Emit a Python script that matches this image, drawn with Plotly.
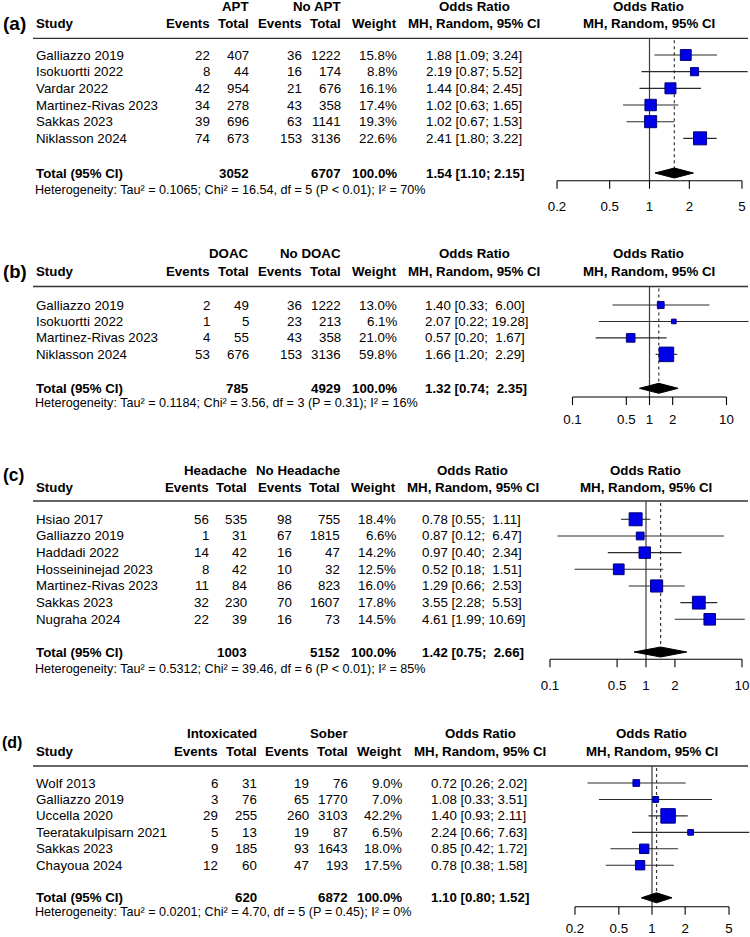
import math
import plotly.graph_objects as go

W, H = 750, 937
FONT = "Liberation Sans, Arial, Helvetica, sans-serif"

# ---------------- data ----------------
# (a) APT vs No APT
a_study = ["Galliazzo 2019", "Isokuortti 2022", "Vardar 2022", "Martinez-Rivas 2023", "Sakkas 2023", "Niklasson 2024"]
a_e_events = [22, 8, 42, 34, 39, 74]
a_e_total = [407, 44, 954, 278, 696, 673]
a_c_events = [36, 16, 21, 43, 63, 153]
a_c_total = [1222, 174, 676, 358, 1141, 3136]
a_weight = [15.8, 8.8, 16.1, 17.4, 19.3, 22.6]
a_or = [1.88, 2.19, 1.44, 1.02, 1.02, 2.41]
a_lo = [1.09, 0.87, 0.84, 0.63, 0.67, 1.80]
a_hi = [3.24, 5.52, 2.45, 1.65, 1.53, 3.22]
a_totals = [3052, 6707, 100.0]
a_summary = [1.54, 1.10, 2.15]
a_het = ["0.1065", "16.54", "5", "P &lt; 0.01", "70%"]
a_ticks = [0.2, 0.5, 1, 2, 5]
a_groups = ["APT", "No APT"]

# (b) DOAC vs No DOAC
b_study = ["Galliazzo 2019", "Isokuortti 2022", "Martinez-Rivas 2023", "Niklasson 2024"]
b_e_events = [2, 1, 4, 53]
b_e_total = [49, 5, 55, 676]
b_c_events = [36, 23, 43, 153]
b_c_total = [1222, 213, 358, 3136]
b_weight = [13.0, 6.1, 21.0, 59.8]
b_or = [1.40, 2.07, 0.57, 1.66]
b_lo = [0.33, 0.22, 0.20, 1.20]
b_hi = [6.00, 19.28, 1.67, 2.29]
b_totals = [785, 4929, 100.0]
b_summary = [1.32, 0.74, 2.35]
b_het = ["0.1184", "3.56", "3", "P = 0.31", "16%"]
b_ticks = [0.1, 0.5, 1, 2, 10]
b_groups = ["DOAC", "No DOAC"]

# (c) Headache vs No Headache
c_study = ["Hsiao 2017", "Galliazzo 2019", "Haddadi 2022", "Hosseininejad 2023", "Martinez-Rivas 2023", "Sakkas 2023", "Nugraha 2024"]
c_e_events = [56, 1, 14, 8, 11, 32, 22]
c_e_total = [535, 31, 42, 42, 84, 230, 39]
c_c_events = [98, 67, 16, 10, 86, 70, 16]
c_c_total = [755, 1815, 47, 32, 823, 1607, 73]
c_weight = [18.4, 6.6, 14.2, 12.5, 16.0, 17.8, 14.5]
c_or = [0.78, 0.87, 0.97, 0.52, 1.29, 3.55, 4.61]
c_lo = [0.55, 0.12, 0.40, 0.18, 0.66, 2.28, 1.99]
c_hi = [1.11, 6.47, 2.34, 1.51, 2.53, 5.53, 10.69]
c_totals = [1003, 5152, 100.0]
c_summary = [1.42, 0.75, 2.66]
c_het = ["0.5312", "39.46", "6", "P &lt; 0.01", "85%"]
c_ticks = [0.1, 0.5, 1, 2, 10]
c_groups = ["Headache", "No Headache"]

# (d) Intoxicated vs Sober
d_study = ["Wolf 2013", "Galliazzo 2019", "Uccella 2020", "Teeratakulpisarn 2021", "Sakkas 2023", "Chayoua 2024"]
d_e_events = [6, 3, 29, 5, 9, 12]
d_e_total = [31, 76, 255, 13, 185, 60]
d_c_events = [19, 65, 260, 19, 93, 47]
d_c_total = [76, 1770, 3103, 87, 1643, 193]
d_weight = [9.0, 7.0, 42.2, 6.5, 18.0, 17.5]
d_or = [0.72, 1.08, 1.40, 2.24, 0.85, 0.78]
d_lo = [0.26, 0.33, 0.93, 0.66, 0.42, 0.38]
d_hi = [2.02, 3.51, 2.11, 7.63, 1.72, 1.58]
d_totals = [620, 6872, 100.0]
d_summary = [1.10, 0.80, 1.52]
d_het = ["0.0201", "4.70", "5", "P = 0.45", "0%"]
d_ticks = [0.2, 0.5, 1, 2, 5]
d_groups = ["Intoxicated", "Sober"]

panel_labels = ["(a)", "(b)", "(c)", "(d)"]

# ---------------- layout / style (pixel geometry) ----------------
STYLE = [
    dict(row0=55.0, pitch=16.67, hdr1=6.5, hdr2=23.0, rule=38.3, total=173.0, het=189.5,
         axis=180.7, ticklab=207.5, label_y=23.0, label_x=1.5, label_size=19,
         x_ee=211, x_et=250, x_ce=303, x_ce_hdr=303, x_ct=342, x_w=398, x_or=425,
         x_orhdr=474, x_fhdr=648.5, center=649.5, k=132.3, smax=13.0),
    dict(row0=305.0, pitch=16.45, hdr1=253.5, hdr2=271.0, rule=286.5, total=388.3, het=402.8,
         axis=397.0, ticklab=421.0, label_y=271.0, label_x=2.0, label_size=18.5,
         x_ee=211, x_et=250, x_ce=303, x_ce_hdr=303, x_ct=342, x_w=398, x_or=423.5,
         x_orhdr=474, x_fhdr=648.5, center=649.5, k=77.0, smax=14.5),
    dict(row0=519.3, pitch=16.67, hdr1=470.0, hdr2=487.0, rule=501.0, total=652.0, het=668.5,
         axis=659.3, ticklab=687.0, label_y=475.0, label_x=1.5, label_size=17.5,
         x_ee=210, x_et=248, x_ce=293, x_ce_hdr=303, x_ct=341, x_w=397, x_or=420.5,
         x_orhdr=472.5, x_fhdr=645.5, center=646.0, k=96.0, smax=13.0),
    dict(row0=783.0, pitch=16.45, hdr1=733.5, hdr2=751.0, rule=766.0, total=897.8, het=911.8,
         axis=906.7, ticklab=930.0, label_y=742.0, label_x=0.5, label_size=16,
         x_ee=218.5, x_et=258, x_ce=310, x_ce_hdr=310, x_ct=349, x_w=403, x_or=430,
         x_orhdr=480, x_fhdr=651.5, center=652.0, k=110.2, smax=14.5),
]
X_STUDY = 35
RULE_X = (33, 748)
FOREST_DOM = (530, 750)
FS = 13.3
FS_HET = 12.6
CI_COLOR = "#2b2b2b"
SQ_FILL = "#0000e8"
SQ_LINE = "#00007a"
REF_COLOR = "#3a3a3a"
DIAMOND_HALF_PX = 5.0
TICK_LEN_PX = 8.0

panels = [
    (a_study, a_e_events, a_e_total, a_c_events, a_c_total, a_weight, a_or, a_lo, a_hi, a_totals, a_summary, a_het, a_ticks, a_groups),
    (b_study, b_e_events, b_e_total, b_c_events, b_c_total, b_weight, b_or, b_lo, b_hi, b_totals, b_summary, b_het, b_ticks, b_groups),
    (c_study, c_e_events, c_e_total, c_c_events, c_c_total, c_weight, c_or, c_lo, c_hi, c_totals, c_summary, c_het, c_ticks, c_groups),
    (d_study, d_e_events, d_e_total, d_c_events, d_c_total, d_weight, d_or, d_lo, d_hi, d_totals, d_summary, d_het, d_ticks, d_groups),
]

fig = go.Figure()
annotations = []
shapes = []
layout_axes = {}


def px2paper(x):
    return x / W


def tick_text(v):
    return "%g" % v


for p, (study, ee, et, ce, ct, wt, orv, lo, hi, totals, summ, het, ticks, groups) in enumerate(panels):
    st = STYLE[p]
    n = len(study)
    k = p + 1
    xa = "x" if k == 1 else "x%d" % k
    ya = "y" if k == 1 else "y%d" % k
    row0, pitch = st["row0"], st["pitch"]

    def idx(py, row0=row0, pitch=pitch):
        return (py - row0) / pitch

    c, kk = st["center"], st["k"]
    layout_axes["xaxis" if k == 1 else "xaxis%d" % k] = dict(
        type="log", domain=[FOREST_DOM[0] / W, FOREST_DOM[1] / W],
        range=[(FOREST_DOM[0] - c) / kk, (FOREST_DOM[1] - c) / kk],
        visible=False, anchor=ya, fixedrange=True)
    layout_axes["yaxis" if k == 1 else "yaxis%d" % k] = dict(
        domain=[0, 1], range=[(H - row0) / pitch, (0 - row0) / pitch],
        visible=False, anchor=xa, fixedrange=True)

    def txt(text, xpx, yidx, anchor="left", size=FS, bold=False, ya=ya):
        annotations.append(dict(
            text=("<b>%s</b>" % text) if bold else text,
            x=px2paper(xpx), xref="paper", y=yidx, yref=ya,
            xanchor=anchor, yanchor="middle", showarrow=False, borderpad=0,
            font=dict(family=FONT, size=size, color="black")))

    h1, h2 = idx(st["hdr1"]), idx(st["hdr2"])
    txt(panel_labels[p], st["label_x"], idx(st["label_y"]), "left", st["label_size"], True)
    txt(groups[0], st["x_et"], h1, "right", bold=True)
    txt(groups[1], st["x_ct"], h1, "right", bold=True)
    txt("Odds Ratio", st["x_orhdr"], h1, "center", bold=True)
    txt("Odds Ratio", st["x_fhdr"], h1, "center", bold=True)
    txt("Study", X_STUDY, h2, "left", bold=True)
    txt("Events", st["x_ee"], h2, "right", bold=True)
    txt("Total", st["x_et"], h2, "right", bold=True)
    txt("Events", st["x_ce_hdr"], h2, "right", bold=True)
    txt("Total", st["x_ct"], h2, "right", bold=True)
    txt("Weight", st["x_w"], h2, "right", bold=True)
    txt("MH, Random, 95% CI", st["x_orhdr"], h2, "center", bold=True)
    txt("MH, Random, 95% CI", st["x_fhdr"], h2, "center", bold=True)

    shapes.append(dict(type="line", xref="paper", yref=ya,
                       x0=px2paper(RULE_X[0]), x1=px2paper(RULE_X[1]),
                       y0=idx(st["rule"]), y1=idx(st["rule"]),
                       line=dict(color="#333333", width=1.3)))

    all_hi = list(hi) + [summ[2]]
    width_hi = max(len("%.2f" % v) for v in all_hi)

    def ci_text(e, l, u, width_hi=width_hi):
        us = "%.2f" % u
        pad = "\u00a0" * (width_hi - len(us))
        return "%.2f [%.2f;\u00a0%s%s]" % (e, l, pad, us)

    for i in range(n):
        txt(study[i], X_STUDY, i, "left")
        txt(str(ee[i]), st["x_ee"], i, "right")
        txt(str(et[i]), st["x_et"], i, "right")
        txt(str(ce[i]), st["x_ce"], i, "right")
        txt(str(ct[i]), st["x_ct"], i, "right")
        txt("%.1f%%" % wt[i], st["x_w"], i, "right")
        txt(ci_text(orv[i], lo[i], hi[i]), st["x_or"], i, "left")

    ti = idx(st["total"])
    txt("Total (95% CI)", X_STUDY, ti, "left", bold=True)
    txt(str(totals[0]), st["x_et"], ti, "right", bold=True)
    txt(str(totals[1]), st["x_ct"], ti, "right", bold=True)
    txt("%.1f%%" % totals[2], st["x_w"], ti, "right", bold=True)
    txt(ci_text(*summ), st["x_or"], ti, "left", bold=True)

    het_text = ("Heterogeneity: Tau\u00b2 = %s; Chi\u00b2 = %s, df = %s (%s); I\u00b2 = %s" % tuple(het))
    txt(het_text, X_STUDY - 1, idx(st["het"]), "left", FS_HET)

    # ---------- forest ----------
    rule_i = idx(st["rule"])
    axis_i = idx(st["axis"])
    dh = DIAMOND_HALF_PX / pitch

    fig.add_trace(go.Scatter(x=[1, 1], y=[rule_i, axis_i], mode="lines",
                             line=dict(color=REF_COLOR, width=1.2),
                             xaxis=xa, yaxis=ya, hoverinfo="skip", showlegend=False))
    fig.add_trace(go.Scatter(x=[summ[0], summ[0]], y=[rule_i + 0.12, ti - dh], mode="lines",
                             line=dict(color=REF_COLOR, width=1.2, dash="dot"),
                             xaxis=xa, yaxis=ya, hoverinfo="skip", showlegend=False))
    cx, cy = [], []
    for i in range(n):
        cx += [lo[i], hi[i], None]
        cy += [i, i, None]
    fig.add_trace(go.Scatter(x=cx, y=cy, mode="lines", line=dict(color=CI_COLOR, width=1.1),
                             xaxis=xa, yaxis=ya, hoverinfo="skip", showlegend=False))
    wmax = max(wt)
    sizes = [st["smax"] * math.sqrt(w / wmax) for w in wt]
    fig.add_trace(go.Scatter(x=orv, y=list(range(n)), mode="markers",
                             marker=dict(symbol="square", size=sizes, color=SQ_FILL, opacity=1,
                                         line=dict(color=SQ_LINE, width=1)),
                             xaxis=xa, yaxis=ya, hoverinfo="skip", showlegend=False, cliponaxis=False))
    fig.add_trace(go.Scatter(x=[summ[1], summ[0], summ[2], summ[0], summ[1]],
                             y=[ti, ti - dh, ti, ti + dh, ti], mode="lines", fill="toself",
                             fillcolor="black", line=dict(color="black", width=1),
                             xaxis=xa, yaxis=ya, hoverinfo="skip", showlegend=False))
    tl = TICK_LEN_PX / pitch
    ax_x = [min(ticks), max(ticks), None]
    ax_y = [axis_i, axis_i, None]
    for t in ticks:
        ax_x += [t, t, None]
        ax_y += [axis_i, axis_i + tl, None]
    fig.add_trace(go.Scatter(x=ax_x, y=ax_y, mode="lines", line=dict(color="black", width=1.1),
                             xaxis=xa, yaxis=ya, hoverinfo="skip", showlegend=False))
    fig.add_trace(go.Scatter(x=ticks, y=[idx(st["ticklab"])] * len(ticks), mode="text",
                             text=[tick_text(t) for t in ticks], textposition="middle center",
                             textfont=dict(family=FONT, size=FS, color="black"),
                             xaxis=xa, yaxis=ya, hoverinfo="skip", showlegend=False, cliponaxis=False))

fig.update_layout(
    width=W, height=H, margin=dict(l=0, r=0, t=0, b=0),
    paper_bgcolor="white", plot_bgcolor="rgba(0,0,0,0)",
    showlegend=False, annotations=annotations, shapes=shapes,
    font=dict(family=FONT, size=FS, color="black"),
    **layout_axes)

fig.write_html("out.html", config={"displayModeBar": False},
               post_script="document.body.style.margin='0px';document.body.style.padding='0px';")
